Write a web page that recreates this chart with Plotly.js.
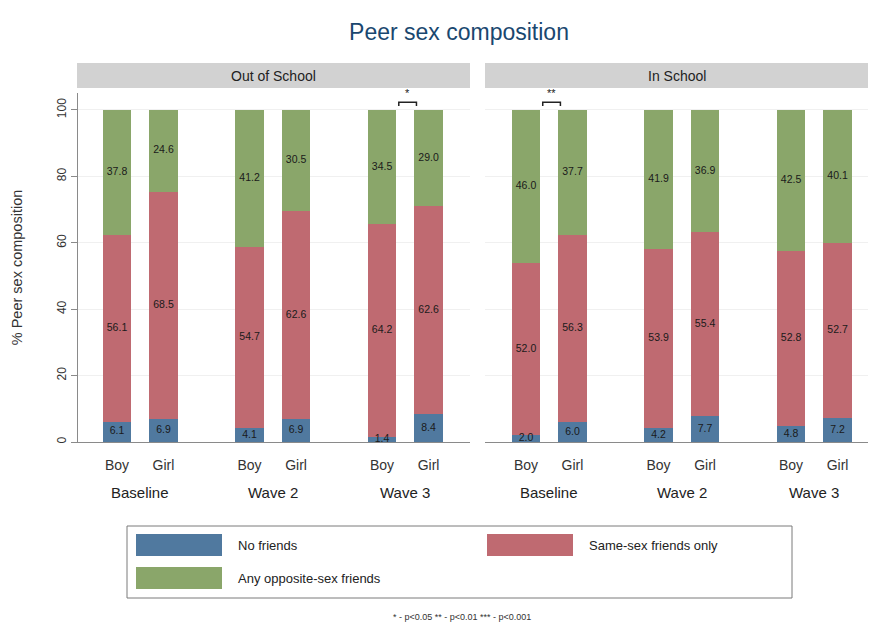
<!DOCTYPE html>
<html>
<head>
<meta charset="utf-8">
<script src="https://cdn.plot.ly/plotly-3.0.1.min.js"></script>
<style>html,body{margin:0;padding:0;background:#fff;}#chart{width:871px;height:624px;}</style>
</head>
<body>
<div id="chart"></div>
<script>
// ---- data ----
const panels = ["Out of School", "In School"];
const waves = ["Baseline", "Wave 2", "Wave 3"];
const sexes = ["Boy", "Girl"];
const seriesNames = ["No friends", "Same-sex friends only", "Any opposite-sex friends"];
const outNone = [6.1, 6.9, 4.1, 6.9, 1.4, 8.4];
const outSame = [56.1, 68.5, 54.7, 62.6, 64.2, 62.6];
const outOpp  = [37.8, 24.6, 41.2, 30.5, 34.5, 29.0];
const inNone  = [2.0, 6.0, 4.2, 7.7, 4.8, 7.2];
const inSame  = [52.0, 56.3, 53.9, 55.4, 52.8, 52.7];
const inOpp   = [46.0, 37.7, 41.9, 36.9, 42.5, 40.1];
const sigMarks = [["Wave 3", "*"], ["Baseline", "**"]]; // per panel
const footnote = "* - p<0.05 ** - p<0.01 *** - p<0.001";

// ---- styling ----
const colors = ["#50799f", "#bf6a71", "#8aa66a"];
const groupStep = 2.85;
const barW = 0.62;

const xpos = [];
const tickText = [];
waves.forEach((w, g) => sexes.forEach((s, i) => { xpos.push(g * groupStep + i); tickText.push(s); }));

const panelData = [[outNone, outSame, outOpp], [inNone, inSame, inOpp]];
const axes = [["x", "y"], ["x2", "y"]];
const traces = [];
panelData.forEach((series, p) => {
  series.forEach((vals, k) => {
    traces.push({
      type: "bar", x: xpos, y: vals, width: barW,
      xaxis: axes[p][0], yaxis: axes[p][1],
      name: seriesNames[k], showlegend: false,
      marker: {color: colors[k], line: {width: 0}},
      hoverinfo: "skip"
    });
  });
  // labels at segment middles
  const lx = [], ly = [], lt = [];
  xpos.forEach((x, j) => {
    let base = 0;
    series.forEach(vals => {
      lx.push(x); ly.push(base + vals[j] / 2); lt.push(vals[j].toFixed(1));
      base += vals[j];
    });
  });
  traces.push({
    type: "scatter", mode: "text", x: lx, y: ly, text: lt,
    xaxis: axes[p][0], yaxis: axes[p][1], showlegend: false, cliponaxis: false,
    textfont: {family: "Liberation Sans, Arial, sans-serif", size: 10.5, color: "#1a1a1a"},
    hoverinfo: "skip"
  });
});

const xDomains = [[77/871, 470/871], [485/871, 868/871]];
const xRanges = [[(77 - 117) / 46.5, (470 - 117) / 46.5], [(485 - 526) / 46.5, (868 - 526) / 46.5]];

const layout = {
  width: 871, height: 624,
  margin: {l: 0, r: 0, t: 93, b: 182},
  paper_bgcolor: "#ffffff", plot_bgcolor: "#ffffff",
  barmode: "stack",
  font: {family: "Liberation Sans, Arial, sans-serif", color: "#333333"},
  title: {text: "Peer sex composition", x: 0.527, xanchor: "center", y: 0.948, yanchor: "middle",
    font: {size: 23, color: "#1a476f", family: "Liberation Sans, Arial, sans-serif"}},
  xaxis: {domain: xDomains[0], range: xRanges[0], tickvals: xpos, ticktext: tickText,
    showgrid: false, zeroline: false, showline: true, linecolor: "#8a8a8a", linewidth: 1,
    ticks: "", tickfont: {size: 14, color: "#333"}, ticklabelstandoff: 10, fixedrange: true},
  xaxis2: {domain: xDomains[1], range: xRanges[1], tickvals: xpos, ticktext: tickText, anchor: "y",
    showgrid: false, zeroline: false, showline: true, linecolor: "#8a8a8a", linewidth: 1,
    ticks: "", tickfont: {size: 14, color: "#333"}, ticklabelstandoff: 10, fixedrange: true},
  yaxis: {domain: [0, 1], range: [0, 105.1], tickvals: [0, 20, 40, 60, 80, 100],
    tickangle: -90, ticks: "outside", ticklen: 6, tickcolor: "#8a8a8a",
    showline: true, linecolor: "#8a8a8a", linewidth: 1, zeroline: false,
    showgrid: true, gridcolor: "#f0f0f0", tickfont: {size: 12, color: "#333"},
    title: {text: "% Peer sex composition", font: {size: 14.5, color: "#333"}, standoff: 28},
    anchor: "free", position: 77/871, fixedrange: true},
  shapes: [],
  annotations: []
};

// strip header rectangles (paper coords above plot)
const stripY0 = 1 + (93 - 88) / (624 - 93 - 182);
const stripY1 = 1 + (93 - 63) / (624 - 93 - 182);
xDomains.forEach((d, p) => {
  layout.shapes.push({type: "rect", xref: "paper", yref: "paper", x0: d[0], x1: d[1],
    y0: stripY0, y1: stripY1, line: {width: 0}, fillcolor: "#d2d2d2"});
  layout.annotations.push({xref: "paper", yref: "paper", x: (d[0] + d[1]) / 2, y: (stripY0 + stripY1) / 2,
    text: panels[p], showarrow: false, font: {size: 14, color: "#222"}, xanchor: "center", yanchor: "middle"});
});
// group labels
["x", "x2"].forEach(ax => {
  waves.forEach((w, g) => {
    layout.annotations.push({xref: ax, yref: "paper", x: g * groupStep + 0.5, y: -50 / 349,
      text: w, showarrow: false, font: {size: 15, color: "#222"}, xanchor: "center", yanchor: "middle"});
  });
});
// significance brackets
sigMarks.forEach((m, p) => {
  const g = waves.indexOf(m[0]);
  const ax = p === 0 ? "x" : "x2";
  const x0 = g * groupStep + barW / 2 + 0.05, x1 = g * groupStep + 1 - barW / 2 + 0.05;
  layout.shapes.push({type: "path", xref: ax, yref: "y",
    path: `M ${x0} 101.2 L ${x0} 102.3 L ${x1} 102.3 L ${x1} 101.2`,
    line: {color: "#222", width: 1.5}});
  layout.annotations.push({xref: ax, yref: "y", x: (x0 + x1) / 2, y: 102.6, text: m[1],
    showarrow: false, yanchor: "bottom", font: {size: 11, color: "#222"}});
});

// legend box
const py = v => 1 - (v - 93) / 349; // pixel y -> paper
const px = v => v / 871;
layout.shapes.push({type: "rect", xref: "paper", yref: "paper", x0: px(127), x1: px(792), y0: py(526), y1: py(598),
  line: {color: "#7a7a7a", width: 1}, fillcolor: "#ffffff"});
const legItems = [[136, 534, 0], [487, 534, 1], [136, 567, 2]];
legItems.forEach(([lx, ly, k]) => {
  layout.shapes.push({type: "rect", xref: "paper", yref: "paper", x0: px(lx), x1: px(lx + 86), y0: py(ly), y1: py(ly + 22),
    line: {width: 0}, fillcolor: colors[k]});
  layout.annotations.push({xref: "paper", yref: "paper", x: px(lx + 100), y: py(ly + 11), text: seriesNames[k],
    showarrow: false, xanchor: "left", yanchor: "middle", font: {size: 13, color: "#222"}});
});
layout.annotations.push({xref: "paper", yref: "paper", x: px(462), y: py(617), text: footnote,
  showarrow: false, xanchor: "center", yanchor: "middle", font: {size: 9, color: "#333"}});

Plotly.newPlot("chart", traces, layout, {staticPlot: true, displayModeBar: false});
</script>
</body>
</html>
